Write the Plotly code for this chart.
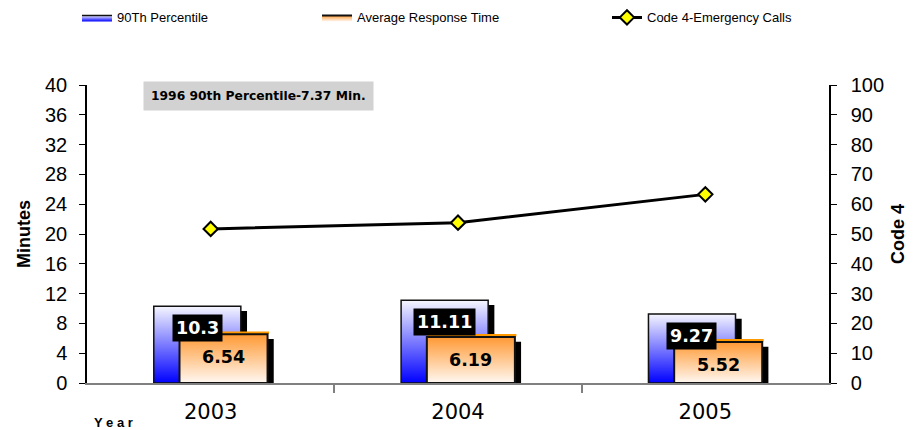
import plotly.graph_objects as go

# ---- data ----
years = ["2003", "2004", "2005"]
p90_values = [10.3, 11.11, 9.27]
avg_values = [6.54, 6.19, 5.52]
code4_values = [51.7, 53.8, 63.3]
left_ticks = list(range(0, 41, 4))
right_ticks = list(range(0, 101, 10))

# ---- style constants (category units) ----
P90_L, P90_R = -0.23, 0.122
AVG_L, AVG_R = -0.126, 0.23
SH_DX = 0.025
SH_DY = 0.65
TOP_DY = 0.22

xpos = list(range(len(years)))


def rect(x0, x1, y0, y1):
    return [x0, x1, x1, x0, x0], [y0, y0, y1, y1, y0]


fig = go.Figure()

blue_scale = [[0, "#0000FF"], [1, "#F6F6FF"]]
orange_scale = [[0, "#FFF8F2"], [1, "#FF9933"]]

for i, (xp, v90, va) in enumerate(zip(xpos, p90_values, avg_values)):
    # shadow of 90th bar
    sx, sy = rect(xp + P90_L + SH_DX, xp + P90_R + SH_DX, 0, v90 - SH_DY)
    fig.add_trace(go.Scatter(x=sx, y=sy, fill="toself", mode="lines",
                             fillcolor="black", line=dict(width=0, color="black"),
                             showlegend=False, hoverinfo="skip"))
    # 90th bar
    bx, by = rect(xp + P90_L, xp + P90_R, 0, v90)
    fig.add_trace(go.Scatter(x=bx, y=by, fill="toself", mode="lines",
                             fillgradient=dict(type="vertical", colorscale=blue_scale),
                             line=dict(width=1.5, color="#111111"),
                             name="90Th Percentile", legendgroup="p90", legend="legend",
                             showlegend=(i == 0),
                             hovertemplate=f"{years[i]}: {v90}<extra>90Th Percentile</extra>"))
    # shadow of avg bar
    sx, sy = rect(xp + AVG_L + SH_DX, xp + AVG_R + SH_DX, 0, va - SH_DY)
    fig.add_trace(go.Scatter(x=sx, y=sy, fill="toself", mode="lines",
                             fillcolor="black", line=dict(width=0, color="black"),
                             showlegend=False, hoverinfo="skip"))
    # orange top face of avg bar
    fig.add_trace(go.Scatter(x=[xp + AVG_L + 0.004, xp + AVG_R + 0.006],
                             y=[va + TOP_DY, va + TOP_DY], mode="lines",
                             line=dict(width=2.5, color="#FF9900"),
                             showlegend=False, hoverinfo="skip"))
    # avg bar
    bx, by = rect(xp + AVG_L, xp + AVG_R, 0, va)
    fig.add_trace(go.Scatter(x=bx, y=by, fill="toself", mode="lines",
                             fillgradient=dict(type="vertical", colorscale=orange_scale),
                             line=dict(width=2, color="#111111"),
                             name="Average Response Time", legendgroup="avg", legend="legend2",
                             showlegend=(i == 0),
                             hovertemplate=f"{years[i]}: {va}<extra>Average Response Time</extra>"))

fig.add_trace(go.Scatter(x=xpos, y=code4_values, yaxis="y2", mode="lines+markers",
                         name="Code 4-Emergency Calls", legend="legend3",
                         line=dict(color="black", width=3),
                         marker=dict(symbol="diamond", size=11, color="#FFFF00",
                                     line=dict(color="black", width=2))))

annotations = []
for xp, v90, va in zip(xpos, p90_values, avg_values):
    annotations.append(dict(x=xp + (P90_L + P90_R) / 2, y=v90, xref="x", yref="y",
                            text=f"{v90:g}", showarrow=False, yanchor="top", yshift=-8,
                            bgcolor="black", borderpad=3,
                            font=dict(family="DejaVu Sans", size=17.5, color="white", weight="bold")))
    annotations.append(dict(x=xp + (AVG_L + AVG_R) / 2, y=va, xref="x", yref="y",
                            text=f"{va:g}", showarrow=False, yanchor="top", yshift=-11,
                            font=dict(family="DejaVu Sans", size=17.5, color="black", weight="bold")))

annotations.append(dict(x=0.0755, y=1.013, xref="paper", yref="paper", xanchor="left", yanchor="top",
                        text="1996 90th Percentile-7.37 Min.", showarrow=False,
                        bgcolor="#d2d2d2", borderpad=7,
                        font=dict(family="DejaVu Sans", size=12.3, color="black", weight="bold")))
annotations.append(dict(x=0.036, y=-0.131, xref="paper", yref="paper", xanchor="center", yanchor="middle",
                        text="Y e a r", showarrow=False,
                        font=dict(family="Liberation Sans", size=13, color="black", weight="bold")))

legend_common = dict(orientation="h", yanchor="top", y=1.277, xanchor="left",
                     font=dict(family="Liberation Sans", size=13, color="black"),
                     itemclick=False, itemdoubleclick=False, bgcolor="rgba(0,0,0,0)")

fig.update_layout(
    width=919, height=430,
    margin=dict(l=87, r=90, t=85, b=47, autoexpand=False),
    paper_bgcolor="white", plot_bgcolor="white",
    font=dict(family="Liberation Sans", color="black"),
    showlegend=True,
    legend=dict(x=-0.0135, **legend_common),
    legend2=dict(x=0.31, **legend_common),
    legend3=dict(x=0.7008, **legend_common),
    xaxis=dict(range=[-0.5, 2.5], tickmode="array", tickvals=xpos, ticktext=years,
               ticks="", showgrid=False, zeroline=False, showline=True,
               linecolor="#808080", linewidth=1.5, ticklabelstandoff=9,
               tickfont=dict(family="DejaVu Sans", size=21, color="black"),
               minor=dict(tickmode="array", tickvals=[0.5, 1.5], ticks="outside",
                          ticklen=8, tickcolor="#808080", tickwidth=1.5, showgrid=False)),
    yaxis=dict(range=[0, 40], tickmode="array", tickvals=left_ticks, showgrid=False,
               zeroline=False, showline=True, linecolor="black", linewidth=1.5,
               ticks="outside", ticklen=6, tickcolor="black", ticklabelstandoff=8,
               tickfont=dict(family="Liberation Sans", size=20, color="black"),
               title=dict(text="Minutes", standoff=10,
                          font=dict(family="Liberation Sans", size=18, color="black", weight="bold"))),
    yaxis2=dict(range=[0, 100], tickmode="array", tickvals=right_ticks, overlaying="y",
                side="right", showgrid=False, zeroline=False, showline=True,
                linecolor="black", linewidth=1.5, ticks="outside", ticklen=6, tickcolor="black",
                ticklabelstandoff=10,
                tickfont=dict(family="Liberation Sans", size=20, color="black"),
                title=dict(text="Code 4", standoff=8,
                           font=dict(family="Liberation Sans", size=18, color="black", weight="bold"))),
    annotations=annotations,
)

fig.write_html("out.html", config={"displayModeBar": False},
               post_script="document.body.style.margin='0';document.body.style.overflow='hidden';")
